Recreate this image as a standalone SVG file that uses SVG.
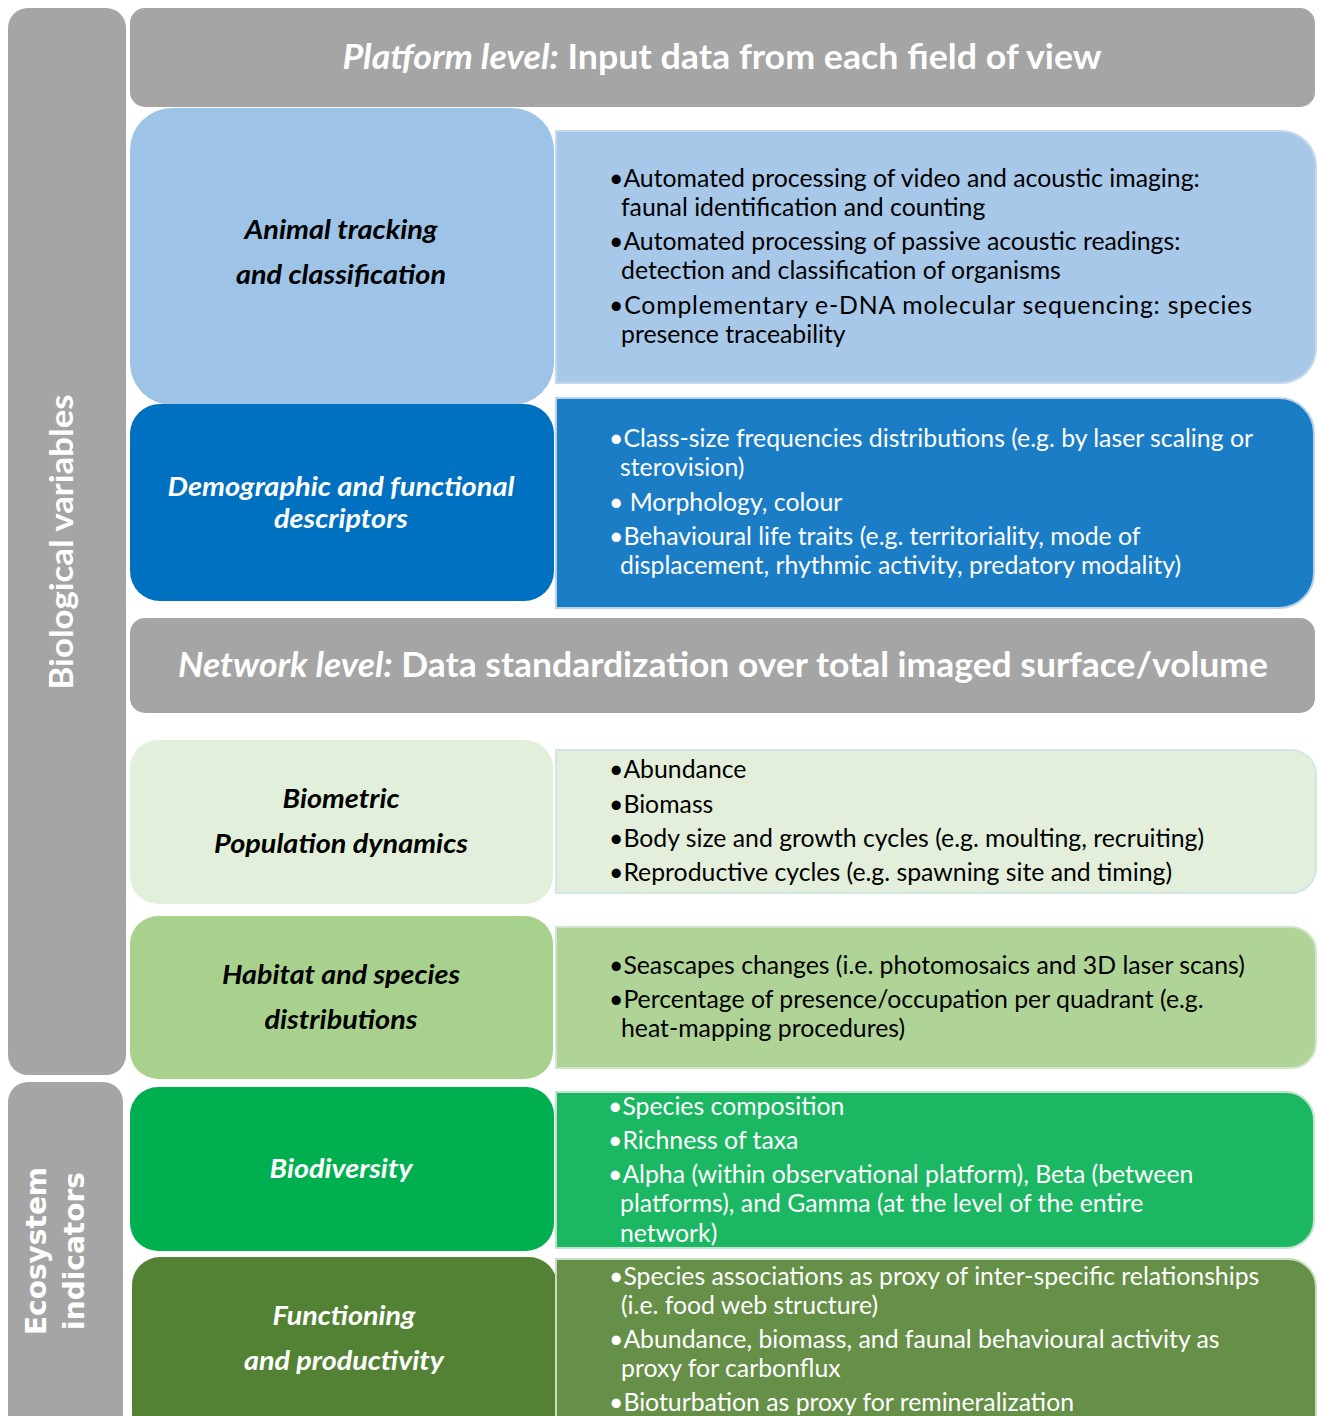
<svg xmlns="http://www.w3.org/2000/svg" width="1321" height="1416" viewBox="0 0 1321 1416">
<style>
.side{fill:#a5a5a5}
.side-t{font-family:Lato,"Liberation Sans",sans-serif;font-weight:bold;fill:#ffffff;font-size:33px;text-anchor:middle}
.eco-t{font-family:"DejaVu Sans",Verdana,sans-serif;font-weight:bold;fill:#ffffff;font-size:28px;text-anchor:middle}
.bar{fill:#a5a5a5}
.bar-t{font-family:Lato,"Liberation Sans",sans-serif;font-weight:bold;fill:#ffffff;font-size:34px;text-anchor:middle}
.bar-t .it{font-style:italic}
.lbl{font-family:Lato,"Liberation Sans",sans-serif;font-weight:bold;font-style:italic;font-size:26px;text-anchor:middle}
.body{font-family:Lato,"Liberation Sans",sans-serif;font-size:24.8px}
.dark{fill:#000000}
.light{fill:#ffffff}
.box{stroke-width:2}
</style>
<rect width="1321" height="1416" fill="#ffffff"/>

<g id="side-biological">
<rect class="side" x="8" y="8" width="118" height="1067" rx="20"/>
<text class="side-t" transform="translate(73,542) rotate(-90)" textLength="295" lengthAdjust="spacingAndGlyphs">Biological variables</text>
</g>
<g id="side-ecosystem">
<rect class="side" x="8" y="1082" width="115" height="360" rx="20"/>
<text class="eco-t" transform="translate(46,1251) rotate(-90)">Ecosystem</text>
<text class="eco-t" transform="translate(84,1251) rotate(-90)">indicators</text>
</g>

<g id="bar-platform">
<rect class="bar" x="130" y="8" width="1185" height="99" rx="15"/>
<text class="bar-t" x="722" y="69" textLength="759" lengthAdjust="spacingAndGlyphs"><tspan class="it">Platform level:</tspan> Input data from each field of view</text>
</g>
<g id="bar-network">
<rect class="bar" x="130" y="618" width="1185" height="95" rx="15"/>
<text class="bar-t" x="723" y="677" textLength="1090" lengthAdjust="spacingAndGlyphs"><tspan class="it">Network level:</tspan> Data standardization over total imaged surface/volume</text>
</g>

<g id="node-animal">
<rect x="130" y="108" width="424" height="297" rx="42" fill="#9dc3e6"/>
<text class="lbl dark" x="341" y="239" textLength="193" lengthAdjust="spacingAndGlyphs">Animal tracking</text>
<text class="lbl dark" x="341" y="284" textLength="210" lengthAdjust="spacingAndGlyphs">and classification</text>
</g>
<g id="desc-animal">
<path class="box" d="M556,131 H1281 A35,35 0 0 1 1316,166 V348 A35,35 0 0 1 1281,383 H556 Z" fill="#a7c8e8" stroke="#c4d9ee"/>
<text class="body dark" x="609" y="187">•Automated processing of video and acoustic imaging:</text>
<text class="body dark" x="621" y="216">faunal identification and counting</text>
<text class="body dark" x="609" y="250">•Automated processing of passive acoustic readings:</text>
<text class="body dark" x="621" y="279">detection and classification of organisms</text>
<text class="body dark" x="609" y="314" textLength="643" lengthAdjust="spacing">•Complementary e-DNA molecular sequencing: species</text>
<text class="body dark" x="621" y="343">presence traceability</text>
</g>

<g id="node-demographic">
<rect x="130" y="404" width="424" height="197" rx="30" fill="#0070c0"/>
<text class="lbl light" x="341" y="496" textLength="347" lengthAdjust="spacingAndGlyphs">Demographic and functional</text>
<text class="lbl light" x="341" y="528" textLength="134" lengthAdjust="spacingAndGlyphs">descriptors</text>
</g>
<g id="desc-demographic">
<path class="box" d="M556,398 H1279 A35,35 0 0 1 1314,433 V573 A35,35 0 0 1 1279,608 H556 Z" fill="#1b7dc6" stroke="#b7d2ea"/>
<text class="body light" x="609" y="447">•Class-size frequencies distributions (e.g. by laser scaling or</text>
<text class="body light" x="620" y="476">sterovision)</text>
<text class="body light" x="609" y="511">• Morphology, colour</text>
<text class="body light" x="609" y="545">•Behavioural life traits (e.g. territoriality, mode of</text>
<text class="body light" x="620" y="574">displacement, rhythmic activity, predatory modality)</text>
</g>

<g id="node-biometric">
<rect x="130" y="740" width="423" height="164" rx="28" fill="#e2efda"/>
<text class="lbl dark" x="341" y="808" textLength="117" lengthAdjust="spacingAndGlyphs">Biometric</text>
<text class="lbl dark" x="341" y="853" textLength="254" lengthAdjust="spacingAndGlyphs">Population dynamics</text>
</g>
<g id="desc-biometric">
<path class="box" d="M556,750 H1291 A25,25 0 0 1 1316,775 V868 A25,25 0 0 1 1291,893 H556 Z" fill="#e3efdb" stroke="#d3e6e4"/>
<text class="body dark" x="609" y="778">•Abundance</text>
<text class="body dark" x="609" y="813">•Biomass</text>
<text class="body dark" x="609" y="847">•Body size and growth cycles (e.g. moulting, recruiting)</text>
<text class="body dark" x="609" y="881">•Reproductive cycles (e.g. spawning site and timing)</text>
</g>

<g id="node-habitat">
<rect x="130" y="916" width="423" height="163" rx="28" fill="#a9d18e"/>
<text class="lbl dark" x="341" y="984" textLength="238" lengthAdjust="spacingAndGlyphs">Habitat and species</text>
<text class="lbl dark" x="341" y="1029" textLength="153" lengthAdjust="spacingAndGlyphs">distributions</text>
</g>
<g id="desc-habitat">
<path class="box" d="M556,927 H1291 A25,25 0 0 1 1316,952 V1043 A25,25 0 0 1 1291,1068 H556 Z" fill="#b0d498" stroke="#cfe5cc"/>
<text class="body dark" x="609" y="974">•Seascapes changes (i.e. photomosaics and 3D laser scans)</text>
<text class="body dark" x="609" y="1008">•Percentage of presence/occupation per quadrant (e.g.</text>
<text class="body dark" x="621" y="1037">heat-mapping procedures)</text>
</g>

<g id="node-biodiversity">
<rect x="130" y="1087" width="424" height="164" rx="28" fill="#00b050"/>
<text class="lbl light" x="341" y="1178" textLength="143" lengthAdjust="spacingAndGlyphs">Biodiversity</text>
</g>
<g id="desc-biodiversity">
<path class="box" d="M556,1092 H1286 A28,28 0 0 1 1314,1120 V1220 A28,28 0 0 1 1286,1248 H556 Z" fill="#1bb762" stroke="#bfe3cc"/>
<text class="body light" x="608" y="1115">•Species composition</text>
<text class="body light" x="608" y="1149">•Richness of taxa</text>
<text class="body light" x="608" y="1183">•Alpha (within observational platform), Beta (between</text>
<text class="body light" x="620" y="1212">platforms), and Gamma (at the level of the entire</text>
<text class="body light" x="620" y="1242">network)</text>
</g>

<g id="node-functioning">
<rect x="132" y="1257" width="425" height="185" rx="28" fill="#548235"/>
<text class="lbl light" x="344" y="1325" textLength="143" lengthAdjust="spacingAndGlyphs">Functioning</text>
<text class="lbl light" x="344" y="1370" textLength="200" lengthAdjust="spacingAndGlyphs">and productivity</text>
</g>
<g id="desc-functioning">
<path class="box" d="M556,1259 H1288 A28,28 0 0 1 1316,1287 V1440 H556 Z" fill="#668f48" stroke="#c7dcc0"/>
<text class="body light" x="609" y="1285">•Species associations as proxy of inter-specific relationships</text>
<text class="body light" x="621" y="1314">(i.e. food web structure)</text>
<text class="body light" x="609" y="1348">•Abundance, biomass, and faunal behavioural activity as</text>
<text class="body light" x="621" y="1377">proxy for carbonflux</text>
<text class="body light" x="609" y="1411">•Bioturbation as proxy for remineralization</text>
</g>

<g id="connectors"></g>
</svg>
